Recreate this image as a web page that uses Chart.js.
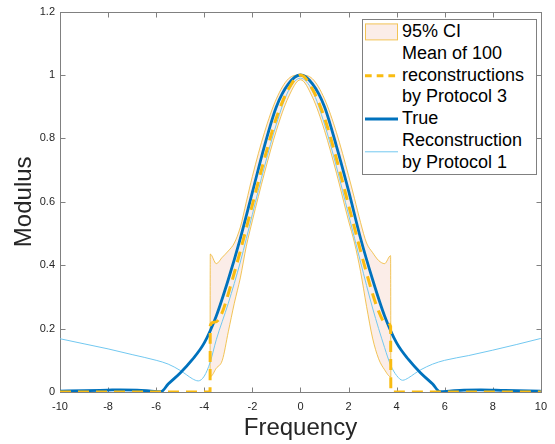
<!DOCTYPE html>
<html>
<head>
<meta charset="utf-8">
<script src="https://cdn.jsdelivr.net/npm/chart.js@4.4.1/dist/chart.umd.min.js"></script>
<style>
  html, body { margin: 0; padding: 0; background: #fff; }
  #wrap { position: relative; width: 555px; height: 444px; }
  #legend {
    position: absolute; left: 362px; top: 19px; width: 173px; height: 154px;
    border: 1px solid #808080; background: #fff;
    font: 18px 'Liberation Sans', Arial, Helvetica, sans-serif; color: #000;
  }
  .entry { position: absolute; left: 0; right: 0; }
  .entry svg { position: absolute; left: 2px; top: 0; }
  .entry .text { position: absolute; left: 39px; top: 0; line-height: 21.8px; white-space: pre; }
</style>
</head>
<body>
<div id="wrap">
  <canvas id="modulusChart" width="555" height="444"></canvas>
  <div id="legend"></div>
</div>
<script>
// True modulus
const freqTrue = [-10, -9, -8, -7.5, -6.8, -6.2, -5.8, -5.5, -5, -4.5, -4, -3.5, -3, -2.5, -2, -1.5, -1, -0.5, 0,
  0.5, 1, 1.5, 2, 2.5, 3, 3.5, 4, 4.5, 5, 5.5, 5.8, 6.2, 6.8, 7.5, 8.5, 10];
const modTrue = [0.003, 0.004, 0.006, 0.007, 0.006, 0.003, 0.001, 0.025, 0.06, 0.102, 0.155, 0.24, 0.355, 0.485, 0.63, 0.775, 0.9, 0.972, 1.0,
  0.972, 0.9, 0.775, 0.635, 0.485, 0.355, 0.24, 0.155, 0.102, 0.06, 0.025, 0.001, 0.003, 0.006, 0.007, 0.005, 0.003];

// Mean of 100 reconstructions (protocol 3)
const freqMean = [-10, -3.76, -3.75, -3.6, -3.4, -3.2, -3, -2.5, -2, -1.5, -1, -0.5, 0,
  0.5, 1, 1.5, 2, 2.5, 3, 3.25, 3.5, 3.75, 3.76, 10];
const modMean = [0, 0, 0.21, 0.22, 0.228, 0.262, 0.31, 0.445, 0.59, 0.735, 0.865, 0.955, 1.0,
  0.955, 0.865, 0.735, 0.59, 0.445, 0.31, 0.255, 0.222, 0.207, 0, 0];

// 95% confidence band
const freqCI = [-3.76, -3.75, -3.5, -3.25, -3, -2.75, -2.5, -2.25, -2, -1.5, -1, -0.5, 0,
  0.5, 1, 1.5, 2, 2.25, 2.5, 2.75, 3, 3.25, 3.5, 3.75, 3.76];
const ciUpper = [0.048, 0.435, 0.405, 0.425, 0.445, 0.47, 0.52, 0.6, 0.68, 0.818, 0.925, 0.988, 1.0,
  0.988, 0.925, 0.818, 0.683, 0.61, 0.535, 0.47, 0.44, 0.415, 0.405, 0.43, 0.048];
const ciLower = [0.048, 0.048, 0.075, 0.1, 0.19, 0.28, 0.36, 0.46, 0.54, 0.69, 0.825, 0.93, 0.985,
  0.93, 0.825, 0.69, 0.54, 0.47, 0.38, 0.27, 0.17, 0.105, 0.07, 0.048, 0.048];

// Single reconstruction (protocol 1)
const freqRecon = [-10, -9, -8, -7, -6, -5.5, -5, -4.75, -4.5, -4.25, -4, -3.75, -3.5, -3, -2.5, -2, -1.5, -1, -0.5, 0,
  0.5, 1, 1.5, 2, 2.5, 3, 3.5, 3.75, 4, 4.25, 4.5, 4.75, 5, 5.5, 6, 7, 8, 9, 10];
const modRecon = [0.168, 0.152, 0.136, 0.118, 0.1, 0.088, 0.068, 0.055, 0.042, 0.035, 0.05, 0.095, 0.165, 0.28, 0.41, 0.56, 0.71, 0.845, 0.95, 0.99,
  0.95, 0.845, 0.71, 0.56, 0.41, 0.265, 0.14, 0.085, 0.052, 0.037, 0.045, 0.058, 0.07, 0.088, 0.1, 0.115, 0.132, 0.15, 0.169];

const xTicks = [-10, -8, -6, -4, -2, 0, 2, 4, 6, 8, 10];
const xTickLabels = ['-10', '-8', '-6', '-4', '-2', '0', '2', '4', '6', '8', '10'];
const yTicks = [0, 0.2, 0.4, 0.6, 0.8, 1, 1.2];
const yTickLabels = ['0', '0.2', '0.4', '0.6', '0.8', '1', '1.2'];

const ciLabel = '95% CI';
const meanLabel = 'Mean of 100\nreconstructions\nby Protocol 3';
const trueLabel = 'True';
const reconLabel = 'Reconstruction\nby Protocol 1';

const colors = {
  truth: '#0072BD',
  mean: '#F9BC12',
  recon: '#72C8F0',
  ciFill: 'rgba(217, 83, 25, 0.1)',
  ciEdge: 'rgba(237, 177, 32, 0.75)',
  axis: '#808080',
  text: '#262626'
};
const fontFamily = "'Liberation Sans', Arial, Helvetica, sans-serif";

function toPoints(xs, ys) {
  return xs.map((x, i) => ({ x: x, y: ys[i] }));
}

// MATLAB-style box with inward ticks on all four sides
const axesBox = {
  id: 'axesBox',
  beforeDatasetsDraw(chart) {
    const { ctx, chartArea: a, scales: { x, y } } = chart;
    const l = Math.round(a.left) + 0.5, r = Math.round(a.right) + 0.5;
    const t = Math.round(a.top) + 0.5, b = Math.round(a.bottom) + 0.5;
    const len = 5;
    ctx.save();
    ctx.strokeStyle = colors.axis;
    ctx.lineWidth = 1;
    ctx.strokeRect(l, t, r - l, b - t);
    ctx.beginPath();
    xTicks.forEach(v => {
      const px = Math.round(x.getPixelForValue(v)) + 0.5;
      ctx.moveTo(px, b); ctx.lineTo(px, b - len);
      ctx.moveTo(px, t); ctx.lineTo(px, t + len);
    });
    yTicks.forEach(v => {
      const py = Math.round(y.getPixelForValue(v)) + 0.5;
      ctx.moveTo(l, py); ctx.lineTo(l + len, py);
      ctx.moveTo(r, py); ctx.lineTo(r - len, py);
    });
    ctx.stroke();
    ctx.restore();
  }
};

const lineDefaults = { pointRadius: 0, cubicInterpolationMode: 'monotone' };

const chart = new Chart(document.getElementById('modulusChart'), {
  type: 'line',
  data: {
    datasets: [
      Object.assign({
        label: ciLabel,
        data: toPoints(freqCI, ciUpper),
        borderColor: colors.ciEdge,
        backgroundColor: colors.ciFill,
        borderWidth: 1,
        fill: '+1',
        order: 4
      }, lineDefaults),
      Object.assign({
        label: ciLabel + ' lower',
        data: toPoints(freqCI, ciLower),
        borderColor: colors.ciEdge,
        borderWidth: 1,
        fill: false,
        order: 3
      }, lineDefaults),
      Object.assign({
        label: reconLabel,
        data: toPoints(freqRecon, modRecon),
        borderColor: colors.recon,
        borderWidth: 1,
        fill: false,
        order: 2
      }, lineDefaults),
      Object.assign({
        label: trueLabel,
        data: toPoints(freqTrue, modTrue),
        borderColor: colors.truth,
        borderWidth: 2.8,
        fill: false,
        order: 1
      }, lineDefaults),
      Object.assign({
        label: meanLabel,
        data: toPoints(freqMean, modMean),
        borderColor: colors.mean,
        borderWidth: 3,
        borderDash: [11, 7],
        fill: false,
        order: 0
      }, lineDefaults)
    ]
  },
  options: {
    responsive: false,
    animation: false,
    layout: { padding: { top: 10, right: 11, left: 0, bottom: 0 } },
    scales: {
      x: {
        type: 'linear',
        min: -10,
        max: 10,
        afterBuildTicks: scale => { scale.ticks = xTicks.map(v => ({ value: v })); },
        afterFit: scale => { scale.height = 52; },
        grid: { display: false, drawTicks: false },
        border: { display: false },
        ticks: {
          callback: (value, index) => xTickLabels[index],
          autoSkip: false,
          maxRotation: 0,
          padding: 8,
          color: colors.text,
          font: { family: fontFamily, size: 11 }
        },
        title: {
          display: true,
          text: 'Frequency',
          color: colors.text,
          padding: { top: 0, bottom: 1 },
          font: { family: fontFamily, size: 24 }
        }
      },
      y: {
        type: 'linear',
        min: 0,
        max: 1.2,
        afterBuildTicks: scale => { scale.ticks = yTicks.map(v => ({ value: v })); },
        afterFit: scale => { scale.width = 60; },
        grid: { display: false, drawTicks: false },
        border: { display: false },
        ticks: {
          callback: (value, index) => yTickLabels[index],
          padding: 5,
          color: colors.text,
          font: { family: fontFamily, size: 11 }
        },
        title: {
          display: true,
          text: 'Modulus',
          color: colors.text,
          padding: { top: 10, bottom: 0 },
          font: { family: fontFamily, size: 24 }
        }
      }
    },
    plugins: {
      legend: { display: false },
      tooltip: { enabled: false }
    }
  },
  plugins: [axesBox]
});

// Legend drawn as HTML beside the canvas
const legendEntries = [
  { label: ciLabel, key: 'patch' },
  { label: meanLabel, key: 'dash' },
  { label: trueLabel, key: 'solid' },
  { label: reconLabel, key: 'thin' }
];
const lineH = 21.8;
const legendBox = document.getElementById('legend');
let lineIndex = 0;
legendEntries.forEach(entry => {
  const nLines = entry.label.split('\n').length;
  const h = nLines * lineH;
  const cy = h / 2;
  let shape;
  if (entry.key === 'patch') {
    shape = `<rect x="0.5" y="${cy - 8}" width="32" height="16" fill="${colors.ciFill}" stroke="${colors.ciEdge}" stroke-width="1"/>`;
  } else if (entry.key === 'dash') {
    shape = `<line x1="0" y1="${cy}" x2="33" y2="${cy}" stroke="${colors.mean}" stroke-width="3" stroke-dasharray="6.7 5"/>`;
  } else if (entry.key === 'solid') {
    shape = `<line x1="0" y1="${cy}" x2="33" y2="${cy}" stroke="${colors.truth}" stroke-width="3"/>`;
  } else {
    shape = `<line x1="0" y1="${cy}" x2="33" y2="${cy}" stroke="${colors.recon}" stroke-width="1"/>`;
  }
  const row = document.createElement('div');
  row.className = 'entry';
  row.style.top = (1.1 + lineIndex * lineH) + 'px';
  row.style.height = h + 'px';
  row.innerHTML = `<svg width="34" height="${h}">${shape}</svg>`;
  const text = document.createElement('div');
  text.className = 'text';
  text.textContent = entry.label;
  row.appendChild(text);
  legendBox.appendChild(row);
  lineIndex += nLines;
});
</script>
</body>
</html>
